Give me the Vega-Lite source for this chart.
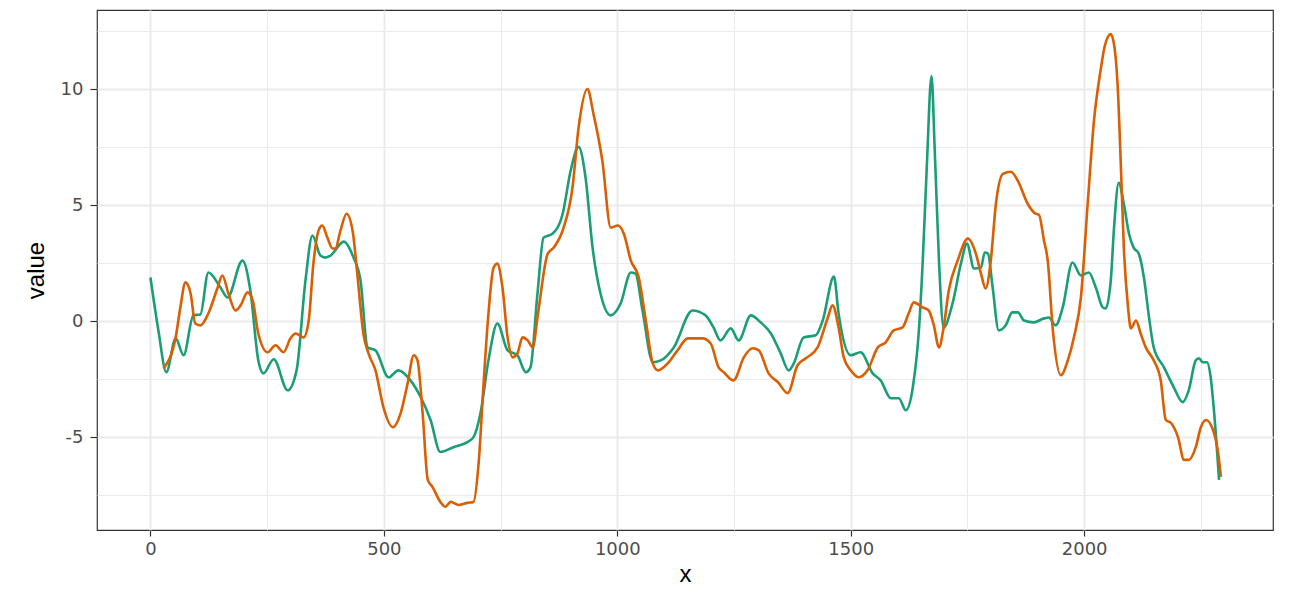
{
  "$schema": "https://vega.github.io/schema/vega-lite/v6.json",
  "width": 1176,
  "height": 520,
  "autosize": {"type": "none"},
  "padding": {"left": 97, "top": 10, "right": 26, "bottom": 70},
  "background": "white",
  "config": {
    "view": {"stroke": "#333333", "strokeWidth": 1.2},
    "font": "Liberation Sans"
  },
  "datasets": {
    "series": [
      {"series":"a","x":0,"value":1.89},{"series":"a","x":17,"value":-0.39},{"series":"a","x":34,"value":-2.19},{"series":"a","x":54,"value":-0.73},{"series":"a","x":71,"value":-1.46},{"series":"a","x":92,"value":0.26},{"series":"a","x":107,"value":0.30},{"series":"a","x":124,"value":2.11},{"series":"a","x":150,"value":1.46},{"series":"a","x":165,"value":1.03},{"series":"a","x":197,"value":2.62},{"series":"a","x":214,"value":1.33},{"series":"a","x":231,"value":-1.68},{"series":"a","x":242,"value":-2.24},{"series":"a","x":264,"value":-1.63},{"series":"a","x":294,"value":-2.97},{"series":"a","x":313,"value":-2.11},{"series":"a","x":332,"value":1.76},{"series":"a","x":347,"value":3.70},{"series":"a","x":364,"value":2.84},{"series":"a","x":375,"value":2.75},{"series":"a","x":386,"value":2.84},{"series":"a","x":414,"value":3.44},{"series":"a","x":435,"value":2.75},{"series":"a","x":450,"value":1.76},{"series":"a","x":465,"value":-1.12},{"series":"a","x":482,"value":-1.25},{"series":"a","x":510,"value":-2.41},{"series":"a","x":531,"value":-2.11},{"series":"a","x":557,"value":-2.54},{"series":"a","x":579,"value":-3.27},{"series":"a","x":600,"value":-4.25},{"series":"a","x":621,"value":-5.63},{"series":"a","x":649,"value":-5.42},{"series":"a","x":679,"value":-5.20},{"series":"a","x":692,"value":-4.99},{"series":"a","x":707,"value":-3.95},{"series":"a","x":724,"value":-1.68},{"series":"a","x":743,"value":-0.09},{"series":"a","x":765,"value":-1.25},{"series":"a","x":786,"value":-1.46},{"series":"a","x":804,"value":-2.19},{"series":"a","x":814,"value":-1.98},{"series":"a","x":829,"value":1.20},{"series":"a","x":842,"value":3.61},{"series":"a","x":861,"value":3.78},{"series":"a","x":883,"value":4.64},{"series":"a","x":900,"value":6.49},{"series":"a","x":917,"value":7.52},{"series":"a","x":932,"value":6.19},{"series":"a","x":947,"value":3.18},{"series":"a","x":964,"value":1.20},{"series":"a","x":986,"value":0.26},{"series":"a","x":1007,"value":0.77},{"series":"a","x":1029,"value":2.11},{"series":"a","x":1039,"value":2.06},{"series":"a","x":1054,"value":0.47},{"series":"a","x":1076,"value":-1.76},{"series":"a","x":1093,"value":-1.68},{"series":"a","x":1121,"value":-1.12},{"series":"a","x":1161,"value":0.47},{"series":"a","x":1189,"value":0.26},{"series":"a","x":1206,"value":-0.26},{"series":"a","x":1221,"value":-0.82},{"series":"a","x":1243,"value":-0.30},{"series":"a","x":1260,"value":-0.82},{"series":"a","x":1286,"value":0.26},{"series":"a","x":1307,"value":-0.04},{"series":"a","x":1329,"value":-0.52},{"series":"a","x":1350,"value":-1.38},{"series":"a","x":1367,"value":-2.11},{"series":"a","x":1378,"value":-1.81},{"series":"a","x":1399,"value":-0.69},{"series":"a","x":1425,"value":-0.60},{"series":"a","x":1440,"value":0.04},{"series":"a","x":1464,"value":1.93},{"series":"a","x":1474,"value":0.34},{"series":"a","x":1500,"value":-1.46},{"series":"a","x":1521,"value":-1.33},{"series":"a","x":1547,"value":-2.24},{"series":"a","x":1564,"value":-2.54},{"series":"a","x":1586,"value":-3.31},{"series":"a","x":1603,"value":-3.31},{"series":"a","x":1618,"value":-3.83},{"series":"a","x":1633,"value":-2.84},{"series":"a","x":1646,"value":-0.39},{"series":"a","x":1654,"value":2.49},{"series":"a","x":1663,"value":6.7},{"series":"a","x":1673,"value":10.57},{"series":"a","x":1680,"value":7.35},{"series":"a","x":1689,"value":2.62},{"series":"a","x":1699,"value":-0.26},{"series":"a","x":1718,"value":0.77},{"series":"a","x":1736,"value":2.49},{"series":"a","x":1749,"value":3.35},{"series":"a","x":1764,"value":2.28},{"series":"a","x":1779,"value":2.32},{"series":"a","x":1787,"value":2.97},{"series":"a","x":1794,"value":2.92},{"series":"a","x":1804,"value":1.46},{"series":"a","x":1817,"value":-0.39},{"series":"a","x":1832,"value":-0.17},{"series":"a","x":1846,"value":0.39},{"series":"a","x":1858,"value":0.39},{"series":"a","x":1871,"value":0.04},{"series":"a","x":1892,"value":-0.04},{"series":"a","x":1914,"value":0.13},{"series":"a","x":1924,"value":0.17},{"series":"a","x":1939,"value":-0.17},{"series":"a","x":1954,"value":0.60},{"series":"a","x":1975,"value":2.54},{"series":"a","x":1993,"value":1.98},{"series":"a","x":2010,"value":2.11},{"series":"a","x":2025,"value":1.46},{"series":"a","x":2040,"value":0.60},{"series":"a","x":2046,"value":0.56},{"series":"a","x":2057,"value":1.76},{"series":"a","x":2064,"value":4.04},{"series":"a","x":2074,"value":5.97},{"series":"a","x":2085,"value":5.07},{"series":"a","x":2096,"value":3.78},{"series":"a","x":2106,"value":3.18},{"series":"a","x":2117,"value":2.92},{"series":"a","x":2128,"value":1.89},{"series":"a","x":2139,"value":0.17},{"series":"a","x":2149,"value":-1.12},{"series":"a","x":2171,"value":-1.98},{"series":"a","x":2192,"value":-2.84},{"series":"a","x":2211,"value":-3.48},{"series":"a","x":2224,"value":-2.97},{"series":"a","x":2239,"value":-1.68},{"series":"a","x":2246,"value":-1.59},{"series":"a","x":2254,"value":-1.76},{"series":"a","x":2263,"value":-1.76},{"series":"a","x":2271,"value":-2.41},{"series":"a","x":2278,"value":-3.83},{"series":"a","x":2289,"value":-6.83},
      {"series":"b","x":28,"value":-2.02},{"series":"b","x":54,"value":-0.69},{"series":"b","x":64,"value":0.60},{"series":"b","x":75,"value":1.68},{"series":"b","x":86,"value":1.20},{"series":"b","x":96,"value":-0.09},{"series":"b","x":107,"value":-0.17},{"series":"b","x":124,"value":0.34},{"series":"b","x":144,"value":1.46},{"series":"b","x":154,"value":1.98},{"series":"b","x":167,"value":1.20},{"series":"b","x":182,"value":0.47},{"series":"b","x":193,"value":0.69},{"series":"b","x":208,"value":1.25},{"series":"b","x":219,"value":0.90},{"series":"b","x":231,"value":-0.52},{"series":"b","x":251,"value":-1.33},{"series":"b","x":268,"value":-1.03},{"series":"b","x":285,"value":-1.33},{"series":"b","x":300,"value":-0.73},{"series":"b","x":311,"value":-0.52},{"series":"b","x":328,"value":-0.69},{"series":"b","x":339,"value":0.04},{"series":"b","x":349,"value":2.49},{"series":"b","x":360,"value":3.91},{"series":"b","x":368,"value":4.13},{"series":"b","x":379,"value":3.61},{"series":"b","x":390,"value":3.14},{"series":"b","x":396,"value":3.14},{"series":"b","x":407,"value":3.91},{"series":"b","x":420,"value":4.64},{"series":"b","x":433,"value":3.91},{"series":"b","x":443,"value":2.06},{"series":"b","x":456,"value":-0.52},{"series":"b","x":467,"value":-1.38},{"series":"b","x":482,"value":-2.11},{"series":"b","x":499,"value":-3.70},{"series":"b","x":519,"value":-4.56},{"series":"b","x":536,"value":-3.95},{"series":"b","x":551,"value":-2.66},{"series":"b","x":564,"value":-1.46},{"series":"b","x":572,"value":-1.68},{"series":"b","x":583,"value":-3.95},{"series":"b","x":594,"value":-6.83},{"series":"b","x":604,"value":-7.13},{"series":"b","x":621,"value":-7.78},{"series":"b","x":632,"value":-7.99},{"series":"b","x":643,"value":-7.78},{"series":"b","x":660,"value":-7.91},{"series":"b","x":679,"value":-7.82},{"series":"b","x":692,"value":-7.78},{"series":"b","x":703,"value":-6.10},{"series":"b","x":714,"value":-2.54},{"series":"b","x":724,"value":0.34},{"series":"b","x":735,"value":2.32},{"series":"b","x":743,"value":2.49},{"series":"b","x":754,"value":1.46},{"series":"b","x":765,"value":-0.69},{"series":"b","x":776,"value":-1.55},{"series":"b","x":786,"value":-1.38},{"series":"b","x":797,"value":-0.69},{"series":"b","x":808,"value":-0.82},{"series":"b","x":819,"value":-1.12},{"series":"b","x":829,"value":0.17},{"series":"b","x":851,"value":2.92},{"series":"b","x":864,"value":3.18},{"series":"b","x":885,"value":4.04},{"series":"b","x":904,"value":5.76},{"series":"b","x":917,"value":8.34},{"series":"b","x":936,"value":10.01},{"series":"b","x":949,"value":8.94},{"series":"b","x":968,"value":6.92},{"series":"b","x":986,"value":4.04},{"series":"b","x":1001,"value":4.13},{"series":"b","x":1014,"value":3.78},{"series":"b","x":1029,"value":2.62},{"series":"b","x":1046,"value":1.89},{"series":"b","x":1061,"value":0.04},{"series":"b","x":1076,"value":-1.81},{"series":"b","x":1087,"value":-2.11},{"series":"b","x":1108,"value":-1.81},{"series":"b","x":1129,"value":-1.25},{"series":"b","x":1151,"value":-0.73},{"series":"b","x":1183,"value":-0.73},{"series":"b","x":1200,"value":-0.95},{"series":"b","x":1217,"value":-1.98},{"series":"b","x":1228,"value":-2.19},{"series":"b","x":1249,"value":-2.54},{"series":"b","x":1271,"value":-1.55},{"series":"b","x":1290,"value":-1.16},{"series":"b","x":1303,"value":-1.25},{"series":"b","x":1324,"value":-2.24},{"series":"b","x":1344,"value":-2.62},{"series":"b","x":1365,"value":-3.09},{"series":"b","x":1386,"value":-1.89},{"series":"b","x":1404,"value":-1.59},{"series":"b","x":1429,"value":-1.12},{"series":"b","x":1451,"value":0.17},{"series":"b","x":1461,"value":0.69},{"series":"b","x":1474,"value":-0.26},{"series":"b","x":1485,"value":-1.55},{"series":"b","x":1500,"value":-2.11},{"series":"b","x":1517,"value":-2.41},{"series":"b","x":1536,"value":-2.11},{"series":"b","x":1558,"value":-1.12},{"series":"b","x":1575,"value":-0.90},{"series":"b","x":1592,"value":-0.39},{"series":"b","x":1611,"value":-0.26},{"series":"b","x":1624,"value":0.34},{"series":"b","x":1635,"value":0.82},{"series":"b","x":1654,"value":0.60},{"series":"b","x":1667,"value":0.47},{"series":"b","x":1678,"value":-0.17},{"series":"b","x":1689,"value":-1.12},{"series":"b","x":1699,"value":-0.26},{"series":"b","x":1710,"value":1.33},{"series":"b","x":1729,"value":2.62},{"series":"b","x":1751,"value":3.57},{"series":"b","x":1768,"value":2.92},{"series":"b","x":1779,"value":2.06},{"series":"b","x":1789,"value":1.42},{"series":"b","x":1800,"value":2.62},{"series":"b","x":1811,"value":5.07},{"series":"b","x":1826,"value":6.36},{"series":"b","x":1843,"value":6.45},{"series":"b","x":1858,"value":6.06},{"series":"b","x":1879,"value":5.07},{"series":"b","x":1896,"value":4.64},{"series":"b","x":1903,"value":4.60},{"series":"b","x":1914,"value":3.48},{"series":"b","x":1922,"value":2.62},{"series":"b","x":1933,"value":-0.39},{"series":"b","x":1950,"value":-2.32},{"series":"b","x":1965,"value":-1.68},{"series":"b","x":1978,"value":-0.69},{"series":"b","x":1993,"value":1.03},{"series":"b","x":2008,"value":5.20},{"series":"b","x":2021,"value":8.64},{"series":"b","x":2036,"value":10.92},{"series":"b","x":2044,"value":11.86},{"series":"b","x":2057,"value":12.38},{"series":"b","x":2066,"value":11.65},{"series":"b","x":2072,"value":10.06},{"series":"b","x":2079,"value":6.49},{"series":"b","x":2085,"value":3.18},{"series":"b","x":2094,"value":0.60},{"series":"b","x":2100,"value":-0.30},{"series":"b","x":2111,"value":0.04},{"series":"b","x":2121,"value":-0.52},{"series":"b","x":2132,"value":-1.12},{"series":"b","x":2149,"value":-1.68},{"series":"b","x":2164,"value":-2.54},{"series":"b","x":2175,"value":-4.25},{"series":"b","x":2186,"value":-4.38},{"series":"b","x":2201,"value":-4.99},{"series":"b","x":2214,"value":-5.97},{"series":"b","x":2224,"value":-5.97},{"series":"b","x":2239,"value":-5.42},{"series":"b","x":2250,"value":-4.56},{"series":"b","x":2261,"value":-4.25},{"series":"b","x":2276,"value":-4.68},{"series":"b","x":2286,"value":-5.54},{"series":"b","x":2293,"value":-6.70}
    ]
  },
  "data": {"name": "series"},
  "layer": [
    {
      "mark": {"type": "line", "opacity": 0},
      "encoding": {
        "x": {"field": "x", "type": "quantitative",
          "scale": {"domain": [-114.5, 2404.5], "nice": false, "zero": false},
          "axis": {"orient": "top", "values": [250, 750, 1250, 1750, 2250], "labels": false, "ticks": false, "domain": false, "title": null, "grid": true, "gridColor": "#EBEBEB", "gridWidth": 1}},
        "y": {"field": "value", "type": "quantitative",
          "scale": {"domain": [-8.99, 13.42], "nice": false, "zero": false},
          "axis": {"orient": "right", "values": [-7.5, -2.5, 2.5, 7.5, 12.5], "labels": false, "ticks": false, "domain": false, "title": null, "grid": true, "gridColor": "#EBEBEB", "gridWidth": 1}},
        "detail": {"field": "series"}
      }
    },
    {
      "mark": {"type": "line", "strokeWidth": 2.6, "interpolate": "monotone"},
      "encoding": {
        "x": {"field": "x", "type": "quantitative",
          "scale": {"domain": [-114.5, 2404.5], "nice": false, "zero": false},
          "axis": {"values": [0, 500, 1000, 1500, 2000], "labelExpr": "toString(datum.value)", "grid": true, "gridColor": "#EBEBEB", "gridWidth": 2,
            "domain": false, "tickColor": "#333333", "tickSize": 6, "tickWidth": 1.2,
            "labelColor": "#4D4D4D", "labelFont": "DejaVu Sans", "labelFontSize": 18, "labelPadding": 4,
            "title": "x", "titleFont": "Liberation Sans", "titleFontSize": 24, "titleFontWeight": "normal", "titleColor": "#000000", "titlePadding": 4}},
        "y": {"field": "value", "type": "quantitative",
          "scale": {"domain": [-8.99, 13.42], "nice": false, "zero": false},
          "axis": {"values": [-5, 0, 5, 10], "labelExpr": "toString(datum.value)", "grid": true, "gridColor": "#EBEBEB", "gridWidth": 2,
            "domain": false, "tickColor": "#333333", "tickSize": 7, "tickWidth": 1.2,
            "labelColor": "#4D4D4D", "labelFont": "DejaVu Sans", "labelFontSize": 18, "labelPadding": 7,
            "title": "value", "titleFont": "Liberation Sans", "titleFontSize": 24, "titleFontWeight": "normal", "titleColor": "#000000", "titlePadding": 12}},
        "color": {"field": "series", "type": "nominal",
          "scale": {"domain": ["a", "b"], "range": ["#1B9E77", "#D95F02"]},
          "legend": null}
      }
    }
  ],
  "resolve": {"axis": {"x": "independent", "y": "independent"}}
}
